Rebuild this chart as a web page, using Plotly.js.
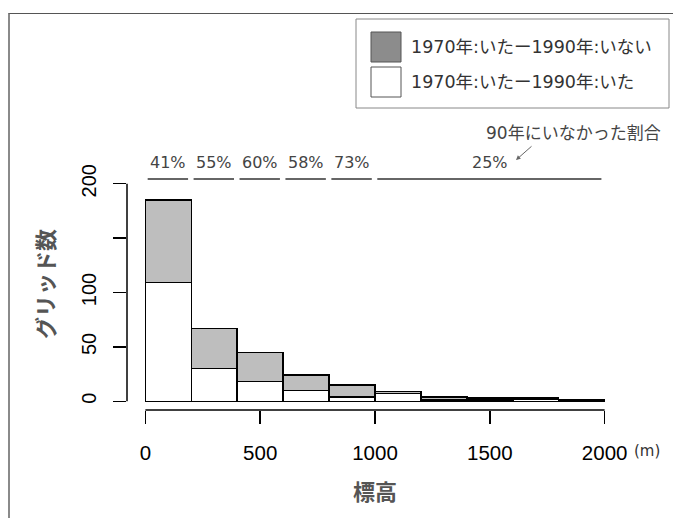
<!DOCTYPE html>
<html><head><meta charset="utf-8">
<script src="https://cdn.plot.ly/plotly-3.0.1.min.js"></script>
<style>
html,body{margin:0;padding:0;background:#fff;overflow:hidden}
#wrap{position:relative;width:673px;height:518px}
#chart{width:673px;height:518px}
#frame{position:absolute;left:8px;top:13px;width:700px;height:600px;border-left:2px solid #8a8a8a;border-top:1.5px solid #555;pointer-events:none}
</style></head><body>
<div id="wrap"><div id="chart"></div><div id="frame"></div></div>
<script>
// ---- data ----
const binStart = [0,200,400,600,800,1000,1200,1400,1600,1800];
const binWidth = 200;
const present = [109,30,18,10,4,7,1,1,2,1];   // 1970:いた - 1990:いた (white)
const absent  = [76,37,27,14,11,2,3,2,1,0];   // 1970:いた - 1990:いない (gray)
const groupStart = [0,200,400,600,800,1000];
const groupEnd   = [200,400,600,800,1000,2000];
const groupPct   = ['41%','55%','60%','58%','73%','25%'];
const xTicks = [0,500,1000,1500,2000];
const xTickText = ['0','500','1000','1500','2000'];
const yTicks = [0,50,100,150,200];
const yTickText = ['0','50','100','','200'];
const legendLabels = ['1970年:いたー1990年:いない','1970年:いたー1990年:いた'];
const noteText = '90年にいなかった割合';
const xTitle = '標高', yTitle = 'グリッド数', xUnit = '(m)';

// ---- layout helpers ----
const W=673,H=518,M={l:127,r:50,t:175,b:108};
const xr=[-80,2080], yr=[-8,208];
const pw=W-M.l-M.r, ph=H-M.t-M.b;
const xp = v => (v-xr[0])/(xr[1]-xr[0]);
const yp = v => (v-yr[0])/(yr[1]-yr[0]);
const pxX = px => (px-M.l)/pw;
const pxY = py => (H-M.b-py)/ph;
const jp = 'DejaVu Sans, Noto Sans CJK JP, sans-serif';
const ar = 'Liberation Sans, Arial, sans-serif';

const xs = binStart.map(s=>s+binWidth/2);
const traces = [
  {type:'bar', x:xs, y:present, width:binWidth, marker:{color:'#ffffff', line:{color:'#000', width:1.5}}, showlegend:false, hoverinfo:'skip'},
  {type:'bar', x:xs, y:absent,  width:binWidth, marker:{color:'#bebebe', line:{color:'#000', width:1.5}}, showlegend:false, hoverinfo:'skip'}
];

const shapes = [
  {type:'line', xref:'paper', yref:'paper', x0:xp(xTicks[0]), x1:xp(xTicks[xTicks.length-1]), y0:0, y1:0, line:{color:'#000', width:1.5}},
  {type:'line', xref:'paper', yref:'paper', x0:0, x1:0, y0:yp(yTicks[0]), y1:yp(yTicks[yTicks.length-1]), line:{color:'#000', width:1.5}},
  // legend box
  {type:'rect', xref:'paper', yref:'paper', x0:pxX(356), x1:pxX(669), y0:pxY(108), y1:pxY(19), line:{color:'#888', width:1}, fillcolor:'#fff'},
  {type:'rect', xref:'paper', yref:'paper', x0:pxX(371), x1:pxX(401), y0:pxY(62), y1:pxY(32), line:{color:'#555', width:1}, fillcolor:'#8c8c8c'},
  {type:'rect', xref:'paper', yref:'paper', x0:pxX(371), x1:pxX(401), y0:pxY(97), y1:pxY(67), line:{color:'#555', width:1}, fillcolor:'#fff'}
];
const annotations = [];
groupStart.forEach((s,i)=>{
  shapes.push({type:'line', xref:'x', yref:'paper', x0:s+10, x1:groupEnd[i]-14, y0:pxY(179), y1:pxY(179), line:{color:'#666', width:2}});
  annotations.push({xref:'x', yref:'paper', x:(s+groupEnd[i])/2, y:pxY(162), text:groupPct[i], showarrow:false, xanchor:'center', yanchor:'middle', font:{family:jp, size:16, color:'#444'}});
});
annotations.push({xref:'paper', yref:'paper', x:pxX(573), y:pxY(133), text:noteText, showarrow:false, xanchor:'center', yanchor:'middle', font:{family:jp, size:17, color:'#444'}});
annotations.push({xref:'paper', yref:'paper', x:pxX(516), y:pxY(160), text:'', showarrow:true, ax:17, ay:-15, arrowhead:2, arrowsize:0.9, arrowwidth:1, arrowcolor:'#666'});
legendLabels.forEach((t,i)=>{
  annotations.push({xref:'paper', yref:'paper', x:pxX(409), y:pxY(47+35*i), text:t, showarrow:false, xanchor:'left', yanchor:'middle', font:{family:jp, size:17.5, color:'#333'}});
});
annotations.push({xref:'paper', yref:'paper', x:pxX(44), y:pxY(284), text:yTitle, textangle:-90, showarrow:false, xanchor:'center', yanchor:'middle', font:{family:'Noto Sans CJK JP', size:22, color:'#555', weight:'bold'}});
annotations.push({xref:'paper', yref:'paper', x:pxX(375), y:pxY(490), text:xTitle, showarrow:false, xanchor:'center', yanchor:'middle', font:{family:'Noto Sans CJK JP', size:22, color:'#555', weight:'bold'}});
annotations.push({xref:'paper', yref:'paper', x:xp(xTicks[xTicks.length-1]), xshift:27, y:pxY(451), text:xUnit, showarrow:false, xanchor:'left', yanchor:'middle', font:{family:jp, size:15, color:'#333'}});

const layout = {
  width:W, height:H, margin:M, paper_bgcolor:'#fff', plot_bgcolor:'#fff',
  barmode:'stack', bargap:0, showlegend:false,
  xaxis:{range:xr, tickvals:xTicks, ticktext:xTickText, ticks:'outside', ticklen:13, tickwidth:1.5, tickcolor:'#000',
         showline:false, showgrid:false, zeroline:false, ticklabelstandoff:11, tickfont:{family:ar, size:20.5, color:'#000'}, fixedrange:true},
  yaxis:{range:yr, tickvals:yTicks, ticktext:yTickText, ticks:'outside', ticklen:13, tickwidth:1.5, tickcolor:'#000', tickangle:-90,
         showline:false, showgrid:false, zeroline:false, ticklabelstandoff:9, tickfont:{family:ar, size:20, color:'#000'}, fixedrange:true},
  shapes:shapes, annotations:annotations
};
Plotly.newPlot('chart', traces, layout, {displayModeBar:false, staticPlot:true});
</script></body></html>
